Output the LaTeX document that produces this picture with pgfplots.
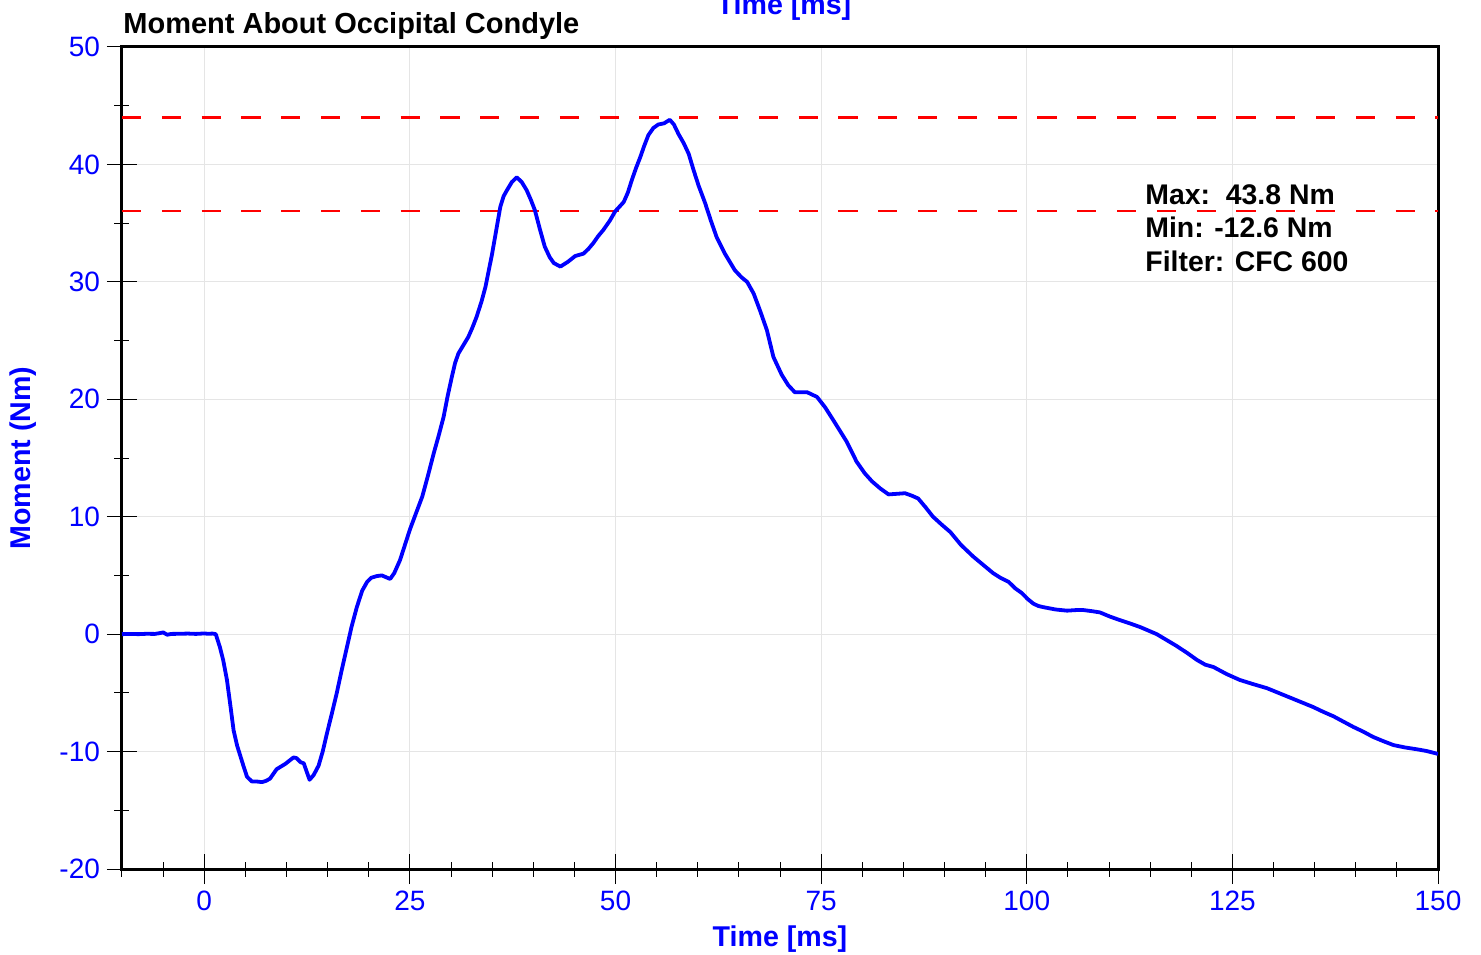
\documentclass[border=0pt]{standalone}
\usepackage{fontspec}
\setmainfont{Liberation Sans}
\usepackage{pgfplots}
\pgfplotsset{compat=1.18}
\definecolor{refred}{RGB}{255,0,0}
\definecolor{refblue}{RGB}{0,0,255}
\pgfplotstableread{
x y
-10 0.0
-9 0.02
-8 0.0
-7 0.03
-6 0.02
-5.3 0.1
-5 0.15
-4.5 -0.05
-4 0.02
-3 0.03
-2 0.05
-1 0.02
0 0.06
0.5 0.03
1.0 0.05
1.4 0.0
1.9 -1.1
2.3 -2.2
2.76 -3.9
3.2 -6.2
3.57 -8.2
4.0 -9.5
4.4 -10.4
4.8 -11.3
5.2 -12.15
5.8 -12.55
6.4 -12.55
7.0 -12.6
7.5 -12.5
8.0 -12.3
8.4 -11.9
8.8 -11.5
9.85 -11.05
10.85 -10.5
11.2 -10.55
11.7 -10.9
12.1 -11.0
12.4 -11.6
12.8 -12.4
13.3 -12.0
13.9 -11.2
14.4 -10.0
14.9 -8.5
15.5 -6.8
16.1 -5.05
16.7 -3.1
17.35 -1.1
17.9 0.6
18.55 2.3
19.2 3.7
19.8 4.45
20.3 4.8
21.0 4.95
21.6 5.0
22.1 4.85
22.6 4.7
23.1 5.2
23.8 6.3
24.4 7.6
25.0 8.9
25.8 10.4
26.5 11.7
27.2 13.5
27.9 15.4
28.5 16.9
29.1 18.5
29.6 20.3
30.1 21.9
30.5 23.1
30.9 23.9
31.5 24.6
32.1 25.3
32.6 26.1
33.1 27.0
33.7 28.3
34.2 29.6
34.6 31.0
35.0 32.4
35.5 34.4
36.0 36.4
36.4 37.3
36.8 37.8
37.4 38.5
38.0 38.9
38.6 38.5
39.2 37.8
39.7 37.0
40.2 36.1
40.8 34.5
41.4 33.0
42.0 32.1
42.5 31.6
43.3 31.3
44.2 31.7
45.1 32.2
46.1 32.4
46.7 32.8
47.3 33.3
47.9 33.9
48.5 34.4
49.3 35.2
49.96 36.0
51.0 36.8
51.5 37.6
52.0 38.7
52.5 39.7
53.0 40.6
53.5 41.6
54.0 42.5
54.6 43.1
55.2 43.4
55.9 43.5
56.6 43.8
57.1 43.4
57.65 42.6
58.3 41.8
58.9 40.9
59.5 39.5
60.1 38.2
60.9 36.7
61.6 35.2
62.3 33.8
63.3 32.4
64.5 31.0
65.3 30.4
66.0 30.0
66.8 29.0
67.6 27.5
68.4 25.9
69.2 23.6
70.2 22.1
71.0 21.2
71.8 20.6
72.5 20.6
73.3 20.6
74.5 20.2
75.5 19.3
76.5 18.2
78.1 16.4
79.3 14.7
80.3 13.7
81.2 13.0
82.2 12.4
83.2 11.9
84.2 11.95
85.2 12.0
86.0 11.8
86.8 11.55
87.7 10.8
88.6 10.0
89.7 9.3
90.7 8.7
92.0 7.6
93.5 6.6
94.7 5.9
95.9 5.2
96.8 4.8
97.8 4.45
98.6 3.9
99.4 3.5
100.1 3.0
100.8 2.6
101.4 2.4
102.0 2.3
103.5 2.1
104.9 2.0
106.0 2.05
106.9 2.05
108.0 1.95
108.9 1.85
110.1 1.5
111.3 1.2
112.6 0.9
113.8 0.6
114.8 0.3
115.8 0.0
117.0 -0.5
118.2 -1.0
119.5 -1.6
120.7 -2.2
121.7 -2.6
122.7 -2.8
124.3 -3.4
125.9 -3.9
127.5 -4.25
129.2 -4.6
130.6 -5.0
132.0 -5.4
133.4 -5.8
134.8 -6.2
136.0 -6.6
137.3 -7.0
138.5 -7.45
139.7 -7.9
140.9 -8.3
142.1 -8.75
143.3 -9.1
144.6 -9.45
146.0 -9.65
147.4 -9.8
148.6 -9.95
150.0 -10.2
}\moment
\pgfplotstableread{
x y
-10 44
150 44
}\upperlim
\pgfplotstableread{
x y
-10 36
150 36
}\lowerlim
\begin{document}
\begin{tikzpicture}
\begin{axis}[
  at={(0pt,0pt)}, anchor=south west,
  scale only axis, width=658pt, height=411pt,
  xmin=-10, xmax=150, ymin=-20, ymax=50,
  xtick={0,25,...,150}, minor xtick={-10,-5,...,150},
  ytick={-20,-10,...,50}, minor ytick={-15,-5,...,45},
  xtick pos=lower, ytick pos=left,
  tick align=center, major tick length=15pt, minor tick length=7.5pt,
  grid=major, major grid style={black!10, line width=0.5pt},
  axis line style={line width=1.5pt},
  tick style={black, line width=0.5pt},
  every tick label/.append style={font=\fontsize{14}{16}\selectfont, text=refblue},
  /pgf/number format/assume math mode=true,
  xlabel={Time [ms]}, ylabel={Moment (Nm)},
  label style={font=\bfseries\fontsize{14.3}{16}\selectfont, text=refblue},
  xlabel style={at={(axis description cs:0.5,0)}, anchor=base, yshift=-38.5pt},
  ylabel style={at={(axis description cs:-0.0752,0.5)}, anchor=center},
  clip=true,
]
\addplot[refred, line width=1.1pt, mark=none, dash pattern=on 9.6pt off 10.3pt] table[x=x,y=y] {\upperlim};
\addplot[refred, line width=1.0pt, mark=none, dash pattern=on 9.6pt off 10.3pt] table[x=x,y=y] {\lowerlim};
\addplot[refblue, line width=1.9pt, line join=round, mark=none] table[x=x,y=y] {\moment};
\end{axis}
\node[anchor=base west, font=\bfseries\fontsize{14.5}{16}\selectfont, inner sep=0pt] at (0.5pt,417.5pt) {Moment About Occipital Condyle};
\node[anchor=base, font=\bfseries\fontsize{14.3}{16}\selectfont, text=refblue, inner sep=0pt] at (331pt,427pt) {Time [ms]};
\node[anchor=base west, font=\bfseries\fontsize{14.2}{16.9}\selectfont, inner sep=0pt, align=left] at (511.5pt,298.6pt) {Max:\ \ 43.8 Nm\\Min: -12.6 Nm\\Filter: CFC 600};
\pgfresetboundingbox
\path (-61pt,-42.5pt) rectangle (679.5pt,434.5pt);
\end{tikzpicture}
\end{document}
